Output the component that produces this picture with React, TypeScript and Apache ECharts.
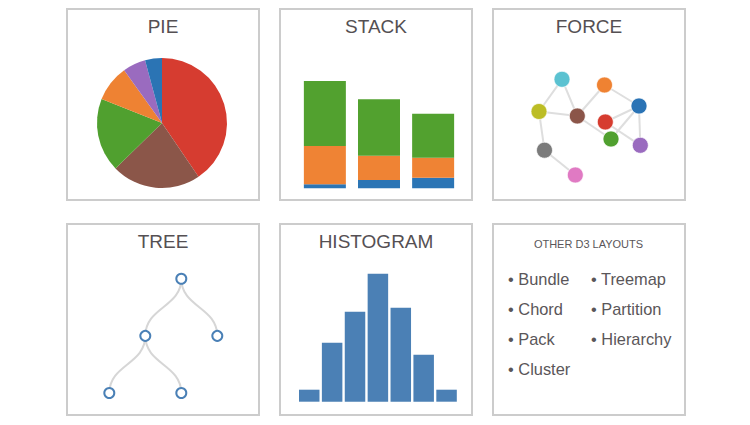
import React, { useEffect, useRef } from "react";
import * as echarts from "echarts";

// ---------- DATA ----------
const panelTitles = ["PIE", "STACK", "FORCE", "TREE", "HISTOGRAM"];

const pieNames = ["A", "B", "C", "D", "E", "F"];
const pieValues = [40.5, 22.2, 18.3, 9.1, 5.7, 4.2];

const stackCategories = ["1", "2", "3"];
const stackBlue = [4, 8.3, 10.6];
const stackOrange = [38.2, 24.3, 20];
const stackGreen = [65, 56.4, 44];

const forceNodeNames = ["cyan", "orange", "olive", "brown", "blue", "red", "green", "purple", "gray", "pink"];
const forceNodeX = [69, 111.5, 46, 84.3, 146, 112.3, 118, 147.3, 51.5, 82.3];
const forceNodeY = [70.3, 76, 102.5, 107, 97, 113, 130, 136.3, 141.2, 166];
const forceLinks: [string, string][] = [
  ["cyan", "olive"],
  ["cyan", "brown"],
  ["olive", "brown"],
  ["olive", "gray"],
  ["gray", "pink"],
  ["brown", "orange"],
  ["brown", "green"],
  ["orange", "blue"],
  ["blue", "red"],
  ["blue", "green"],
  ["blue", "purple"],
  ["red", "purple"],
];

const treeData = {
  name: "root",
  children: [
    { name: "a", children: [{ name: "c" }, { name: "d" }] },
    { name: "b" },
  ],
};

const histCategories = ["1", "2", "3", "4", "5", "6", "7"];
const histValues = [12, 59, 90, 128, 94, 47, 12];

const layoutTitle = "OTHER D3 LAYOUTS";
const layoutsCol1 = ["Bundle", "Chord", "Pack", "Cluster"];
const layoutsCol2 = ["Treemap", "Partition", "Hierarchy"];

// ---------- STYLES ----------
const pieColors = ["#d63c30", "#8b5649", "#50a02f", "#ee8233", "#9a6bbf", "#2b74b4"];
const forceColors: Record<string, string> = {
  cyan: "#5bc2d1",
  orange: "#ef8232",
  olive: "#bcbd25",
  brown: "#8b5549",
  blue: "#2a73b5",
  red: "#d63c2f",
  green: "#50a02f",
  purple: "#9a6bbf",
  gray: "#7b7b7b",
  pink: "#e07ac3",
};
const FONT = "'Liberation Sans', Arial, Helvetica, sans-serif";
const TITLE_COLOR = "#555053";
const TEXT_COLOR = "#5a5659";
const BORDER = "#cccccc";

const panelX = [67, 280, 493];
const panelY = [9, 224];
const PW = 192;
const PH = 191;

export default function App() {
  const ref = useRef<HTMLDivElement>(null);

  useEffect(() => {
    if (!ref.current) return;
    const chart = echarts.init(ref.current, null, { renderer: "svg" });

    const graphics: any[] = [];
    // panel borders
    for (let r = 0; r < 2; r++) {
      for (let c = 0; c < 3; c++) {
        graphics.push({
          type: "rect",
          shape: { x: panelX[c], y: panelY[r], width: PW, height: PH },
          style: { fill: "none", stroke: BORDER, lineWidth: 2 },
          silent: true,
        });
      }
    }
    // panel titles
    panelTitles.forEach((t, i) => {
      const r = Math.floor(i / 3);
      const c = i % 3;
      graphics.push({
        type: "text",
        x: panelX[c] + PW / 2,
        y: panelY[r] + 17.4,
        style: {
          text: t,
          font: `19px ${FONT}`,
          fill: TITLE_COLOR,
          textAlign: "center",
          textVerticalAlign: "middle",
          align: "center",
          verticalAlign: "middle",
        },
        silent: true,
      });
    });
    // other layouts panel
    graphics.push({
      type: "text",
      x: panelX[2] + PW / 2 - 0.5,
      y: panelY[1] + 19.5,
      style: {
        text: layoutTitle,
        font: `11px ${FONT}`,
        fill: TEXT_COLOR,
        textAlign: "center",
        textVerticalAlign: "middle",
        align: "center",
        verticalAlign: "middle",
      },
      silent: true,
    });
    const addList = (items: string[], x: number) => {
      items.forEach((it, i) => {
        graphics.push({
          type: "text",
          x,
          y: panelY[1] + 55 + i * 30,
          style: {
            text: "\u2022 " + it,
            font: `16.4px ${FONT}`,
            fill: TEXT_COLOR,
            textAlign: "left",
            textVerticalAlign: "middle",
            align: "left",
            verticalAlign: "middle",
          },
          silent: true,
        });
      });
    };
    addList(layoutsCol1, 508);
    addList(layoutsCol2, 591);

    const forceData = forceNodeNames.map((n, i) => ({
      name: n,
      value: [forceNodeX[i], forceNodeY[i]],
      itemStyle: { color: forceColors[n] },
    }));

    chart.setOption({
      animation: false,
      backgroundColor: "#ffffff",
      graphic: { elements: graphics },
      grid: [
        { left: 297.8, top: 68.3, width: 162.4, height: 120 },
        { left: panelX[2], top: panelY[0], width: PW, height: PH },
        { left: 297.8, top: 261.7, width: 160.2, height: 140 },
      ],
      xAxis: [
        { type: "category", gridIndex: 0, data: stackCategories, show: false },
        { type: "value", gridIndex: 1, min: 0, max: PW, show: false },
        { type: "category", gridIndex: 2, data: histCategories, show: false },
      ],
      yAxis: [
        { type: "value", gridIndex: 0, min: 0, max: 120, show: false },
        { type: "value", gridIndex: 1, min: 0, max: PH, inverse: true, show: false },
        { type: "value", gridIndex: 2, min: 0, max: 140, show: false },
      ],
      series: [
        {
          type: "pie",
          center: [162, 123],
          radius: 65,
          startAngle: 90,
          clockwise: true,
          silent: true,
          label: { show: false },
          labelLine: { show: false },
          data: pieNames.map((n, i) => ({
            name: n,
            value: pieValues[i],
            itemStyle: { color: pieColors[i] },
          })),
        },
        {
          type: "bar",
          stack: "s",
          xAxisIndex: 0,
          yAxisIndex: 0,
          barWidth: 42,
          silent: true,
          itemStyle: { color: "#2b75b5" },
          data: stackBlue,
        },
        {
          type: "bar",
          stack: "s",
          xAxisIndex: 0,
          yAxisIndex: 0,
          barWidth: 42,
          silent: true,
          itemStyle: { color: "#ef8334" },
          data: stackOrange,
        },
        {
          type: "bar",
          stack: "s",
          xAxisIndex: 0,
          yAxisIndex: 0,
          barWidth: 42,
          silent: true,
          itemStyle: { color: "#52a12f" },
          data: stackGreen,
        },
        {
          type: "graph",
          coordinateSystem: "cartesian2d",
          xAxisIndex: 1,
          yAxisIndex: 1,
          symbol: "circle",
          symbolSize: 16,
          silent: true,
          itemStyle: { borderColor: "rgba(255,255,255,0.7)", borderWidth: 1 },
          lineStyle: { color: "#dedede", width: 2, opacity: 1, curveness: 0 },
          label: { show: false },
          data: forceData,
          links: forceLinks.map(([s, t]) => ({ source: s, target: t })),
        },
        {
          type: "tree",
          data: [treeData],
          orient: "TB",
          layout: "orthogonal",
          left: 37.3,
          top: 278.7,
          width: 252,
          height: 114.3,
          symbol: "circle",
          symbolSize: 10,
          edgeShape: "curve",
          expandAndCollapse: false,
          roam: false,
          silent: true,
          itemStyle: { color: "#ffffff", borderColor: "#4a80b6", borderWidth: 2 },
          lineStyle: { color: "#d6d6d6", width: 2, curveness: 0.5 },
          label: { show: false },
          leaves: { label: { show: false } },
        },
        {
          type: "bar",
          xAxisIndex: 2,
          yAxisIndex: 2,
          barWidth: 20.5,
          silent: true,
          itemStyle: { color: "#4b80b5" },
          data: histValues,
        },
      ],
    });

    return () => chart.dispose();
  }, []);

  return (
    <div
      ref={ref}
      style={{ position: "absolute", left: 0, top: 0, width: 750, height: 425 }}
    />
  );
}
